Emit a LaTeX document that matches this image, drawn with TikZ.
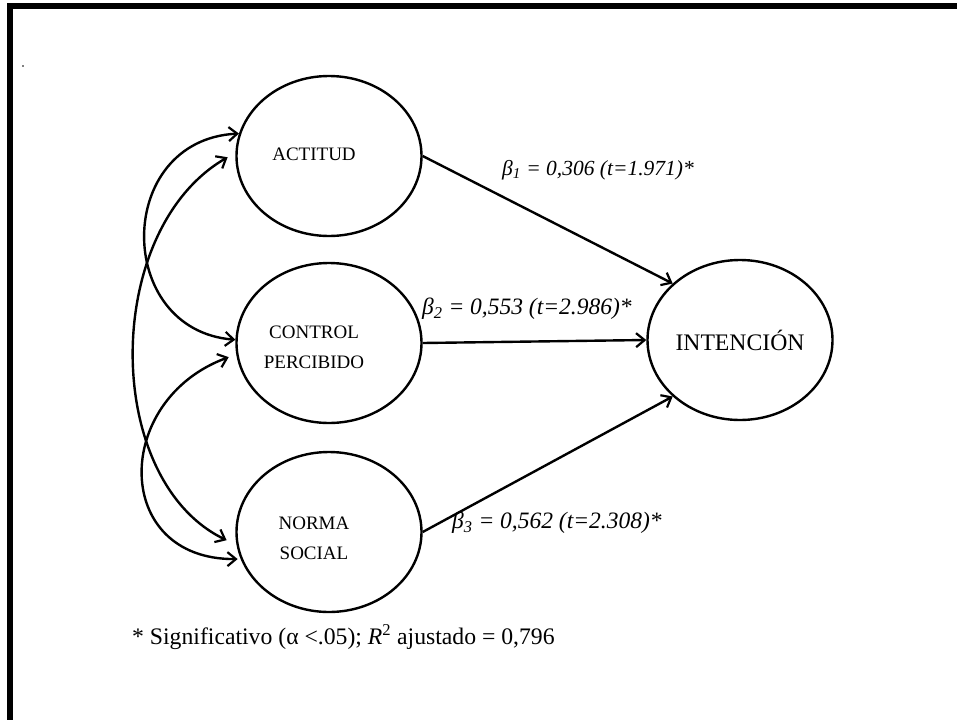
\documentclass[tikz,border=0pt]{standalone}
\usepackage{fontspec}
\setmainfont{Liberation Serif}
\usetikzlibrary{arrows.meta,shapes.geometric}
\begin{document}
\begin{tikzpicture}[x=1pt,y=-1pt,
  tip/.tip={Straight Barb[length=8.5pt,width=14pt,line width=2.2pt]},
  lat/.style={draw,line width=2.4pt,ellipse,minimum width=185pt,minimum height=160pt,inner sep=0pt},
  lbl/.style={align=center,inner sep=0pt,font=\fontsize{19}{30}\selectfont},
  conn/.style={line width=2.4pt,-tip},
  dbl/.style={line width=2.4pt,tip-tip},
  coef/.style={font=\fontsize{23.5}{28}\selectfont\itshape,anchor=west,inner sep=0pt},
  note/.style={font=\fontsize{23.7}{28}\selectfont,anchor=west,inner sep=0pt}
]
\useasboundingbox (0,0) rectangle (957,720);
\fill[black] (7,3) rectangle (957,9);
\fill[black] (7,3) rectangle (13,720);
\fill[black] (23,66) circle (0.8);

\node[lat,label={[lbl,xshift=-15pt,yshift=2pt]center:ACTITUD}] (act) at (329,156) {};
\node[lat,label={[lbl,xshift=-15pt,yshift=-4pt]center:CONTROL\\PERCIBIDO}] (ctrl) at (329,343) {};
\node[lat,label={[lbl,xshift=-15pt,yshift=-6pt]center:NORMA\\SOCIAL}] (norm) at (329,532) {};
\node[lat,font=\fontsize{23.7}{28}\selectfont] (int) at (740,340) {INTENCIÓN};

\draw[conn] (act.east) -- (int.140);
\draw[conn] (ctrl.east) -- (int.west);
\draw[conn] (norm.east) -- (int.220);

\draw[dbl] (act.166) .. controls (114,140) and (114,330) .. (ctrl.178);
\draw[dbl,shorten <=9pt,shorten >=11pt] (act.178) .. controls (102,230) and (102,480) .. (norm.188);
\draw[dbl,shorten <=8pt,shorten >=3pt] (ctrl.187) .. controls (112,400) and (112,560) .. (norm.197);

\node[coef,font=\fontsize{21.5}{26}\selectfont\itshape] (b1) at (502,170) {β\textsubscript{1} = 0,306 (t=1.971)*};
\node[coef] (b2) at (422,309) {β\textsubscript{2} = 0,553 (t=2.986)*};
\node[coef] (b3) at (452,523) {β\textsubscript{3} = 0,562 (t=2.308)*};

\node[note] (fn) at (132,637) {* Significativo (α <.05); \textit{R}\textsuperscript{2} ajustado = 0,796};
\end{tikzpicture}
\end{document}
